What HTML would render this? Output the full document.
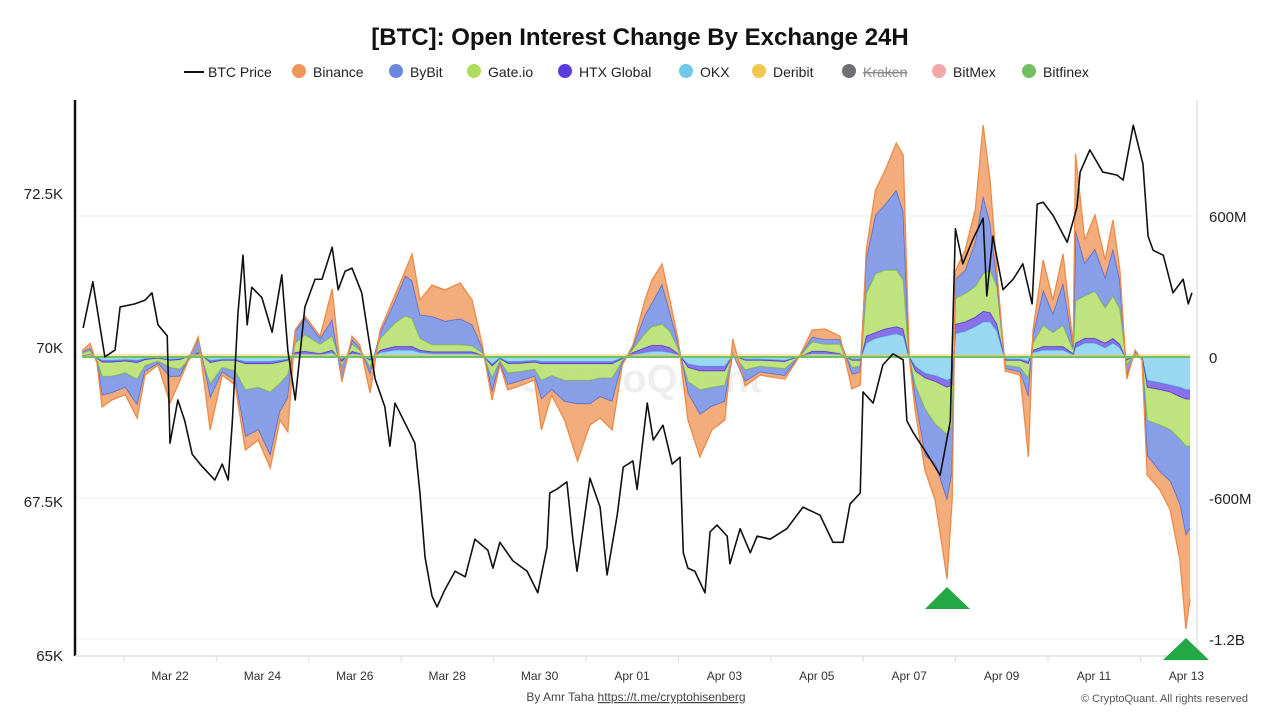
<!DOCTYPE html>
<html><head><meta charset="utf-8">
<style>
body{margin:0;background:#fff;font-family:"Liberation Sans",sans-serif;}
#wrap{position:relative;width:1280px;height:720px;overflow:hidden;}
</style></head>
<body>
<div id="wrap">
<svg id="chart" width="1280" height="720" xmlns="http://www.w3.org/2000/svg">
<text x="640" y="45" text-anchor="middle" font-size="24" font-weight="bold" fill="#111">[BTC]: Open Interest Change By Exchange 24H</text>
<g id="legend" font-size="14" fill="#222">
<g><line x1="184" y1="72" x2="204" y2="72" stroke="#111" stroke-width="2"/><text x="208" y="77">BTC Price</text></g>
<g><circle cx="299" cy="71" r="7" fill="#f0965a"/><text x="313" y="77">Binance</text></g>
<g><circle cx="396" cy="71" r="7" fill="#6b87e0"/><text x="410" y="77">ByBit</text></g>
<g><circle cx="474" cy="71" r="7" fill="#aedc5c"/><text x="488" y="77">Gate.io</text></g>
<g><circle cx="565" cy="71" r="7" fill="#5b3be0"/><text x="579" y="77">HTX Global</text></g>
<g><circle cx="686" cy="71" r="7" fill="#6ec8e8"/><text x="700" y="77">OKX</text></g>
<g><circle cx="759" cy="71" r="7" fill="#f0c850"/><text x="773" y="77">Deribit</text></g>
<g><circle cx="849" cy="71" r="7" fill="#6f6f75"/><text x="863" y="77" fill="#888" text-decoration="line-through">Kraken</text></g>
<g><circle cx="939" cy="71" r="7" fill="#f2a8a8"/><text x="953" y="77">BitMex</text></g>
<g><circle cx="1029" cy="71" r="7" fill="#74c060"/><text x="1043" y="77">Bitfinex</text></g>
</g>
<g id="grid"></g>
<text x="640" y="392" text-anchor="middle" font-size="40" font-weight="bold" fill="#000" opacity="0.06">CryptoQuant</text>
<g id="areas"></g>
<g id="priceg"></g>
<g id="axes"></g>
<polygon points="925,609 947,587 970,609" fill="#22a844"/>
<polygon points="1163,660 1186,638 1209,660" fill="#22a844"/>
<text x="636" y="701" text-anchor="middle" font-size="12" fill="#444">By Amr Taha <tspan text-decoration="underline">https://t.me/cryptohisenberg</tspan></text>
<text x="1248" y="702" text-anchor="end" font-size="11" fill="#555">© CryptoQuant. All rights reserved</text>
</svg>
</div>
<script>
const xTickLabels = ["Mar 22","Mar 24","Mar 26","Mar 28","Mar 30","Apr 01","Apr 03","Apr 05","Apr 07","Apr 09","Apr 11","Apr 13"];
const xTickDays = [2,4,6,8,10,12,14,16,18,20,22,24];
const leftTicks = [72.5,70,67.5,65];
const leftTickLabels = ["72.5K","70K","67.5K","65K"];
const rightTicks = [600,0,-600,-1200];
const rightTickLabels = ["600M","0","-600M","-1.2B"];

const priceDays = [0.12,0.33,0.44,0.59,0.81,0.92,1.24,1.46,1.61,1.74,1.94,2.0,2.17,2.32,2.48,2.65,2.97,3.13,3.26,3.35,3.47,3.58,3.67,3.77,3.99,4.21,4.42,4.55,4.71,4.92,5.14,5.29,5.51,5.64,5.79,5.94,6.15,6.28,6.44,6.65,6.76,6.87,7.15,7.30,7.41,7.52,7.67,7.78,7.95,8.17,8.39,8.6,8.88,8.99,9.14,9.42,9.73,9.96,10.16,10.22,10.37,10.59,10.72,10.81,11.09,11.31,11.46,11.68,11.81,12.02,12.11,12.33,12.46,12.67,12.87,13.04,13.11,13.21,13.36,13.58,13.69,13.84,14.06,14.12,14.34,14.56,14.71,14.99,15.35,15.7,16.07,16.35,16.57,16.72,16.94,17.0,17.22,17.43,17.65,17.87,17.95,18.08,18.39,18.67,18.89,19.0,19.16,19.38,19.6,19.68,19.81,20.03,20.25,20.46,20.66,20.77,20.9,21.11,21.42,21.63,21.7,21.91,22.19,22.5,22.63,22.85,23.06,23.17,23.28,23.5,23.71,23.93,24.04,24.12];
const priceK = [70.31,71.06,70.54,69.84,69.95,70.65,70.70,70.76,70.88,70.36,70.18,68.44,69.14,68.80,68.26,68.10,67.84,68.10,67.84,68.80,70.54,71.49,70.36,70.97,70.80,70.24,71.17,69.95,69.14,70.65,71.10,71.10,71.62,70.93,71.23,71.28,70.88,70.24,69.48,69.03,68.39,69.09,68.67,68.44,67.63,66.59,65.96,65.78,66.06,66.36,66.27,66.88,66.70,66.41,66.83,66.53,66.36,66.01,66.75,67.63,67.69,67.81,66.88,66.36,67.87,67.40,66.30,67.27,68.05,68.15,67.69,69.09,68.49,68.73,68.10,68.21,66.66,66.41,66.36,66.01,67.00,67.11,66.93,66.48,67.05,66.66,66.93,66.88,67.05,67.40,67.27,66.83,66.83,67.45,67.63,69.27,69.09,69.71,69.89,69.79,68.80,68.62,68.26,67.92,68.80,71.92,71.35,71.75,72.09,70.83,71.80,70.93,71.10,71.35,70.70,72.32,72.35,72.14,71.70,72.27,72.84,73.20,72.84,72.79,72.71,73.60,72.97,71.80,71.57,71.49,70.88,71.10,70.70,70.88];

const oiDays = [0.10,0.27,0.42,0.53,0.74,1.03,1.29,1.46,1.74,2.00,2.22,2.61,2.87,3.13,3.41,3.63,3.91,4.17,4.38,4.55,4.71,4.92,5.25,5.51,5.72,5.94,6.11,6.33,6.55,6.87,7.09,7.24,7.41,7.67,7.95,8.28,8.54,8.76,8.97,9.14,9.31,9.57,9.89,10.04,10.26,10.54,10.82,11.09,11.31,11.57,11.79,12.02,12.28,12.43,12.65,12.82,13.00,13.21,13.47,13.73,14.01,14.18,14.45,14.77,15.31,15.64,15.90,16.18,16.50,16.76,16.94,17.07,17.27,17.48,17.72,17.87,18.00,18.13,18.34,18.56,18.82,18.93,19.00,19.21,19.43,19.60,19.75,19.90,20.08,20.40,20.58,20.68,20.90,21.11,21.33,21.55,21.60,21.80,22.02,22.24,22.41,22.56,22.71,22.89,23.04,23.15,23.43,23.65,23.86,23.99,24.08];
const okx = [5,10,-5,-15,-15,-12,-15,-8,-4,-10,-8,10,-15,-10,-10,-20,-20,-20,-15,-10,10,15,10,20,-10,15,10,-10,20,30,30,30,20,15,15,15,15,5,-30,-5,-20,-20,-15,-20,-20,-20,-20,-20,-20,-20,-5,10,20,25,25,20,10,-30,-40,-40,-40,5,-10,-10,-15,2,15,15,10,-10,-10,60,80,90,100,90,0,-40,-70,-80,-100,-90,100,110,130,150,150,110,-10,-10,-20,20,30,30,30,10,40,60,60,40,60,40,-10,5,-3,-100,-110,-120,-130,-140,-140];
const htx = [2,3,-2,-8,-8,-6,-10,-4,-2,-5,-4,10,-10,-5,-5,-10,-10,-10,-8,-5,10,10,5,10,-10,10,5,-5,10,15,15,15,10,8,8,8,8,3,-10,-3,-8,-8,-8,-10,-10,-10,-10,-10,-10,-10,-3,10,20,25,25,20,5,-15,-20,-20,-20,2,-5,-5,-5,1,10,10,5,-5,-5,30,25,30,30,30,0,-20,-20,-25,-30,-30,40,40,40,45,40,30,-5,-5,-10,10,15,15,15,5,20,20,20,20,20,15,-5,2,-1,-30,-30,-30,-40,-40,-40];
const gate = [10,15,-10,-60,-60,-50,-70,-25,-12,-30,-40,10,-90,-30,-45,-110,-100,-120,-90,-60,40,70,40,60,-20,30,15,-30,50,100,130,120,50,30,30,30,25,10,-50,-10,-40,-35,-30,-70,-50,-70,-70,-70,-60,-60,-10,15,60,80,90,70,20,-60,-80,-70,-60,5,-40,-25,-30,3,40,30,40,-30,-25,180,250,250,240,210,0,-60,-130,-180,-200,-170,110,120,130,160,180,160,-20,-30,-60,30,90,60,90,15,180,180,200,150,180,150,-20,10,-5,-140,-150,-160,-180,-200,-200];
const bybit = [5,10,-5,-80,-70,-62,-110,-25,-10,-40,-30,50,-60,-20,-40,-200,-180,-270,-120,-100,50,70,25,70,-60,20,10,-30,25,95,170,160,100,120,100,110,90,20,-60,-10,-50,-40,-30,-80,-60,-90,-100,-100,-80,-100,-10,10,80,100,170,80,25,-50,-105,-80,-70,5,-50,-25,-30,2,20,20,20,-30,-25,150,250,280,340,290,0,-60,-200,-170,-280,-200,80,100,190,330,200,30,-15,-20,-80,35,150,80,180,15,300,140,180,130,200,120,-50,8,-3,-150,-200,-220,-280,-380,-350];
const binance = [5,20,-5,-50,-30,-30,-55,-15,-6,-111,-16,5,-135,-12,-19,-56,-43,-52,-35,-144,5,9,9,129,-6,14,11,-78,10,24,21,113,62,133,132,152,104,13,-33,-6,-22,-20,-15,-130,-22,-78,-242,-89,-90,-120,-6,6,62,97,86,52,12,-113,-180,-100,-78,60,-18,-12,-14,1,30,44,14,-61,-54,35,105,145,200,239,0,-50,-61,-153,-335,-118,36,85,136,302,183,36,-10,-12,-255,20,128,57,123,6,324,98,144,73,123,45,-9,5,-1,-82,-76,-121,-234,-397,-300];

const NS = "http://www.w3.org/2000/svg";
const X = d => 77.6 + 46.2 * d;
const YL = k => 347 - (k - 70) * 61.6;
const YR = m => 357 - m / 4.255;

function mk(tag, attrs, parent){ const e = document.createElementNS(NS, tag); for (const k in attrs) e.setAttribute(k, attrs[k]); parent.appendChild(e); return e; }

const grid = document.getElementById('grid');
rightTicks.forEach((t,i) => {
  const l = mk('line', {x1:77, x2:1197, y1:YR(t), y2:YR(t), stroke:'#f0f0f0', 'stroke-width':1}, grid);
  
  
});

const series = [
  {name:'okx', vals:okx, fill:'#8fd3ee', stroke:'#4fb6dd'},
  {name:'htx', vals:htx, fill:'#7c62e8', stroke:'#4a2ad8'},
  {name:'gate', vals:gate, fill:'#b8e070', stroke:'#8cc23e'},
  {name:'bybit', vals:bybit, fill:'#7b93e4', stroke:'#4a68d8'},
  {name:'binance', vals:binance, fill:'#f2a46e', stroke:'#ec8a48'}
];
const areas = document.getElementById('areas');
const posBase = oiDays.map(()=>0), negBase = oiDays.map(()=>0);
series.forEach(s => {
  const top = [], bot = [];
  oiDays.forEach((d,i) => {
    const v = s.vals[i];
    if (v >= 0) { bot.push([X(d), YR(posBase[i])]); posBase[i] += v; top.push([X(d), YR(posBase[i])]); }
    else { bot.push([X(d), YR(negBase[i])]); negBase[i] += v; top.push([X(d), YR(negBase[i])]); }
  });
  const pts = top.map(p=>p.join(',')).concat(bot.slice().reverse().map(p=>p.join(','))).join(' ');
  const poly = mk('polygon', {points:pts, fill:s.fill, 'fill-opacity':0.9, stroke:'none'}, areas);
  
  
  const edge = mk('polyline', {points:top.map(p=>p.join(',')).join(' '), fill:'none', stroke:s.stroke, 'stroke-width':1.3}, areas);
  
  
});
const zl2 = mk('line', {x1:X(oiDays[0]), x2:X(oiDays[oiDays.length-1]), y1:YR(0)-2, y2:YR(0)-2, stroke:'#f0c850', 'stroke-width':1.5, 'stroke-opacity':0.6}, areas);


const zl = mk('line', {x1:X(oiDays[0]), x2:X(oiDays[oiDays.length-1]), y1:YR(0), y2:YR(0), stroke:'#74c060', 'stroke-width':2}, areas);



const pg = document.getElementById('priceg');
const pl = mk('polyline', {points: priceDays.map((d,i)=>X(d)+','+YL(priceK[i])).join(' '), fill:'none', stroke:'#111', 'stroke-width':1.6, 'stroke-linejoin':'round'}, pg);



const ax = document.getElementById('axes');
const la = mk('line', {x1:75, x2:75, y1:100, y2:656, stroke:'#111', 'stroke-width':2.5}, ax);


const ra = mk('line', {x1:1197, x2:1197, y1:100, y2:656, stroke:'#e4e4e4', 'stroke-width':1.5}, ax);


const ba = mk('line', {x1:75, x2:1197, y1:656, y2:656, stroke:'#ddd', 'stroke-width':1.5}, ax);


leftTicks.forEach((t,i) => {
  const tx = mk('text', {x:63, y:YL(t)+6, 'text-anchor':'end', 'font-size':15, fill:'#222'}, ax);
  tx.textContent = leftTickLabels[i];
  
  
});
rightTicks.forEach((t,i) => {
  const tx = mk('text', {x:1209, y:YR(t)+6, 'font-size':15, fill:'#222'}, ax);
  tx.textContent = rightTickLabels[i];
  
  
});
xTickDays.forEach((d,i) => {
  const tk = mk('line', {x1:X(d)-46, x2:X(d)-46, y1:656, y2:662, stroke:'#ddd'}, ax);
  
  
  const tx = mk('text', {x:X(d), y:680, 'text-anchor':'middle', 'font-size':12, fill:'#333'}, ax);
  tx.textContent = xTickLabels[i];
  
  
});
</script>
</body></html>
